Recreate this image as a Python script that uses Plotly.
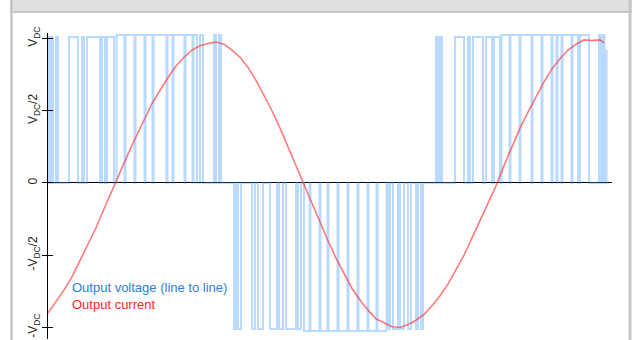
import plotly.graph_objects as go

# ---- data (time in samples, values in units of V_DC) ----
pulse_start = [1, 3.5, 8, 21, 34, 39, 54, 59, 68.5, 77.5, 87.5, 97.5, 105.5, 119.5, 125.5, 137.5, 145.5, 152, 166, 171,
               186, 190, 204, 210, 222, 231, 238, 250, 256, 262.5, 272.5, 280.5, 290.5, 300.5, 310.5, 320.5, 329.5, 340, 345, 352, 360, 368, 373,
               388, 392, 407, 420, 425, 438, 446, 453.5, 462.5, 472.5, 484.5, 494.5, 504.5, 509.5, 514.5, 524.5, 532, 551, 555, 558.5]
pulse_end = [2.5, 5, 10, 30, 36, 52, 57, 66, 76.5, 86.5, 96.5, 104.5, 118.5, 124.5, 136.5, 144.5, 149, 155, 168, 173,
             188, 193, 207, 215, 229, 235, 248, 253, 261.5, 271.5, 279.5, 289.5, 299.5, 309.5, 319.5, 328.5, 338.5, 342, 350, 356, 363, 370, 375,
             390, 394, 416, 422, 435, 444, 452, 461.5, 471.5, 483.5, 493.5, 503.5, 508.5, 513.5, 523.5, 530, 541, 553, 556.5, 558.5]
pulse_level = [1.01] * 8 + [1.025] * 12 + \
              [-1.01] * 8 + [-1.025] * 9 + [-1.01] * 6 + \
              [1.01] * 7 + [1.025] * 12 + [0.92]

current_t = list(range(0, 553, 8)) + [556]
current = [-0.90, -0.82, -0.74, -0.65, -0.54, -0.43, -0.31, -0.18, -0.05, 0.08,
           0.20, 0.32, 0.44, 0.55, 0.64, 0.73, 0.81, 0.87, 0.92, 0.95,
           0.965, 0.975, 0.96, 0.92, 0.87, 0.80, 0.71, 0.61, 0.50, 0.38,
           0.25, 0.12, -0.02, -0.15, -0.28, -0.40, -0.52, -0.63, -0.73, -0.81,
           -0.88, -0.94, -0.97, -0.995, -1.0, -0.98, -0.95, -0.91, -0.85, -0.78,
           -0.70, -0.60, -0.50, -0.38, -0.26, -0.14, -0.02, 0.12, 0.25, 0.38,
           0.49, 0.60, 0.70, 0.79, 0.86, 0.92, 0.96, 0.99, 0.985, 0.99, 0.97]

tick_vals = [1, 0.5, 0, -0.5, -1]
tick_text = ["V<sub>DC</sub>", "V<sub>DC</sub>/2", "0", "-V<sub>DC</sub>/2", "-V<sub>DC</sub>"]
legend_labels = ["Output voltage (line to line)", "Output current"]

# ---- build voltage step path ----
vx, vy = [0], [0]
for a, b, lv in zip(pulse_start, pulse_end, pulse_level):
    vx += [a, a, b, b]
    vy += [0, lv, lv, 0]

W, H = 632, 340
ML, MR, MT, MB = 48, 20, 33, 1
X0, X1 = 0, 564
Y0, Y1 = -1.0796, 1.038


def px_x(p):
    return (p - ML) / (W - ML - MR)


def px_y(p):
    return (H - MB - p) / (H - MT - MB)


fig = go.Figure()
fig.add_trace(go.Scatter(x=vx, y=vy, mode="lines", hoverinfo="skip",
                         line=dict(color="rgba(60,150,250,0.36)", width=2)))
fig.add_trace(go.Scatter(x=current_t, y=current, mode="lines", hoverinfo="skip",
                         line=dict(color="rgba(255,50,50,0.65)", width=1.6)))
# second axis for inward half of cross ticks
fig.add_trace(go.Scatter(x=[None], y=[None], yaxis="y2", showlegend=False))

fig.update_layout(
    width=W, height=H,
    margin=dict(l=ML, r=MR, t=MT, b=MB),
    paper_bgcolor="white", plot_bgcolor="white",
    showlegend=False,
    font=dict(family="Liberation Sans, Arial, sans-serif", size=12, color="#222"),
    xaxis=dict(range=[X0, X1], showgrid=False, showticklabels=False, zeroline=False,
               showline=False, ticks=""),
    yaxis=dict(range=[Y0, Y1], showgrid=False, zeroline=True, zerolinecolor="black",
               zerolinewidth=1, showline=True, linecolor="black", linewidth=1,
               ticks="outside", ticklen=5, tickcolor="black", tickwidth=1,
               tickvals=tick_vals, ticktext=tick_text, tickangle=-90,
               tickfont=dict(size=12, color="#222"), automargin=False),
    yaxis2=dict(range=[Y0, Y1], overlaying="y", side="left", showgrid=False,
                zeroline=False, showline=False, ticks="inside", ticklen=5,
                tickcolor="black", tickwidth=1, tickvals=tick_vals,
                showticklabels=False),
    shapes=[
        dict(type="rect", xref="paper", yref="paper", x0=px_x(10), x1=px_x(632),
             y0=px_y(11.5), y1=px_y(-2), fillcolor="#e0e0e0", line=dict(width=0), layer="above"),
        dict(type="line", xref="paper", yref="paper", x0=px_x(10), x1=px_x(632),
             y0=px_y(12), y1=px_y(12), line=dict(color="#c6c6c6", width=2)),
        dict(type="line", xref="paper", yref="paper", x0=px_x(11.5), x1=px_x(11.5),
             y0=px_y(-2), y1=px_y(342), line=dict(color="#c6c6c6", width=2.5)),
        dict(type="line", xref="paper", yref="paper", x0=px_x(630), x1=px_x(630),
             y0=px_y(-2), y1=px_y(342), line=dict(color="#c6c6c6", width=3)),
    ],
    annotations=[
        dict(xref="paper", yref="paper", x=px_x(70), y=px_y(287), xanchor="left", yanchor="middle",
             text=legend_labels[0], showarrow=False, font=dict(size=13, color="rgb(40,130,215)")),
        dict(xref="paper", yref="paper", x=px_x(70), y=px_y(304), xanchor="left", yanchor="middle",
             text=legend_labels[1], showarrow=False, font=dict(size=13, color="rgb(255,40,40)")),
    ],
)

fig.write_html("out.html", config={"displayModeBar": False},
               post_script="document.body.style.margin='0';document.body.style.overflow='hidden';")
